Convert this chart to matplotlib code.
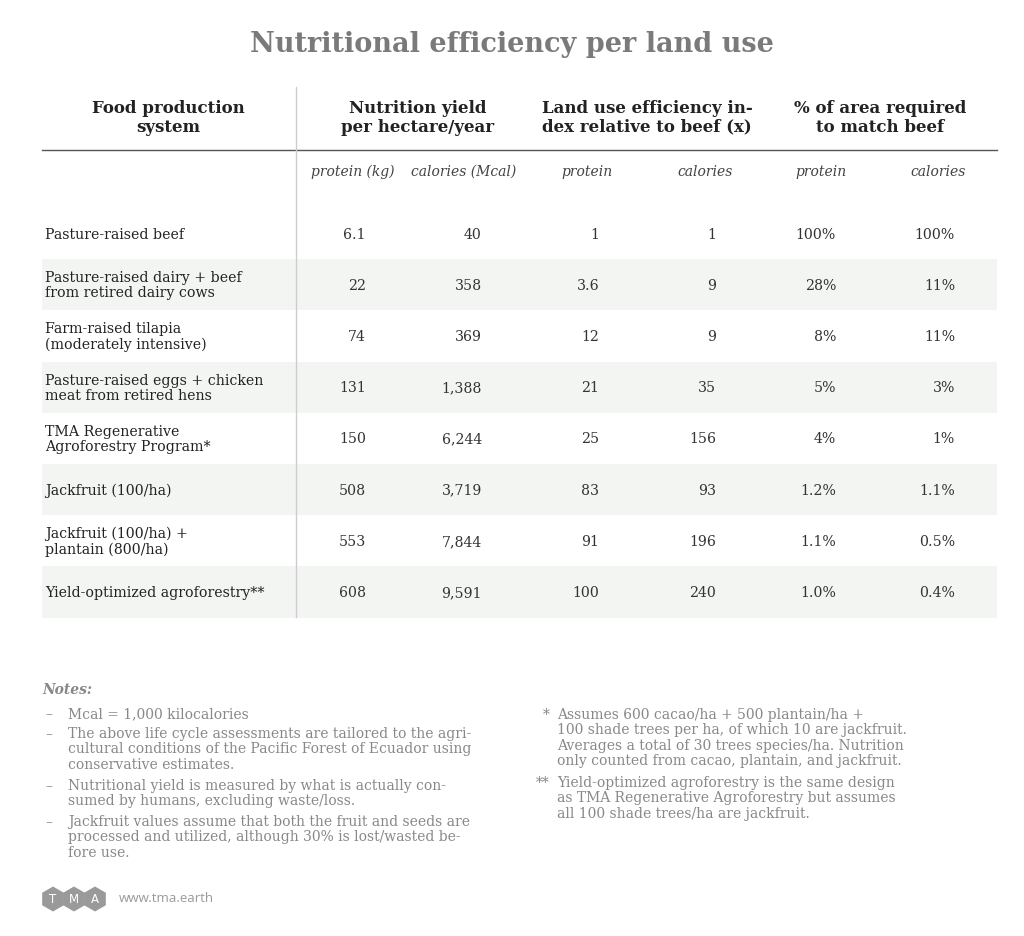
import matplotlib
matplotlib.use('Agg')
import matplotlib.pyplot as plt
from matplotlib.patches import Rectangle, RegularPolygon

systems = ["Pasture-raised beef",
           "Pasture-raised dairy + beef\nfrom retired dairy cows",
           "Farm-raised tilapia\n(moderately intensive)",
           "Pasture-raised eggs + chicken\nmeat from retired hens",
           "TMA Regenerative\nAgroforestry Program*",
           "Jackfruit (100/ha)",
           "Jackfruit (100/ha) +\nplantain (800/ha)",
           "Yield-optimized agroforestry**"]
protein_yield = ["6.1", "22", "74", "131", "150", "508", "553", "608"]
calorie_yield = ["40", "358", "369", "1,388", "6,244", "3,719", "7,844", "9,591"]
protein_eff = ["1", "3.6", "12", "21", "25", "83", "91", "100"]
calorie_eff = ["1", "9", "9", "35", "156", "93", "196", "240"]
protein_area = ["100%", "28%", "8%", "5%", "4%", "1.2%", "1.1%", "1.0%"]
calorie_area = ["100%", "11%", "11%", "3%", "1%", "1.1%", "0.5%", "0.4%"]

headers = ["Food production\nsystem", "Nutrition yield\nper hectare/year",
           "Land use efficiency in-\ndex relative to beef (x)", "% of area required\nto match beef"]
subheaders = ["protein (kg)", "calories (Mcal)", "protein", "calories", "protein", "calories"]

notes_left = [
    "Mcal = 1,000 kilocalories",
    "The above life cycle assessments are tailored to the agri-\ncultural conditions of the Pacific Forest of Ecuador using\nconservative estimates.",
    "Nutritional yield is measured by what is actually con-\nsumed by humans, excluding waste/loss.",
    "Jackfruit values assume that both the fruit and seeds are\nprocessed and utilized, although 30% is lost/wasted be-\nfore use.",
]
notes_right = [
    ("*", "Assumes 600 cacao/ha + 500 plantain/ha +\n100 shade trees per ha, of which 10 are jackfruit.\nAverages a total of 30 trees species/ha. Nutrition\nonly counted from cacao, plantain, and jackfruit."),
    ("**", "Yield-optimized agroforestry is the same design\nas TMA Regenerative Agroforestry but assumes\nall 100 shade trees/ha are jackfruit."),
]

SERIF = "DejaVu Serif"
DARK = "#222222"
GRAY = "#888888"

fig = plt.figure(figsize=(10.24, 9.37), dpi=100)
ax = fig.add_axes([0, 0, 1, 1])
ax.set_xlim(0, 1024)
ax.set_ylim(937, 0)
ax.axis("off")

ax.text(512, 45, "Nutritional efficiency per land use", ha="center", va="center",
        fontsize=19.5, fontweight="bold", color="#7a7a7a", family=SERIF)

# headers
for x, h in zip([168, 418, 647, 880], headers):
    ax.text(x, 118, h, ha="center", va="center", fontsize=12, fontweight="bold",
            color=DARK, family=SERIF, linespacing=1.12)
ax.plot([42, 997], [151, 151], color="#555555", lw=1)
ax.plot([296, 296], [88, 618], color="#cccccc", lw=1)

for x, s in zip([353, 464, 587, 705, 821, 938], subheaders):
    ax.text(x, 172, s, ha="center", va="center", fontsize=10, style="italic",
            color="#444444", family=SERIF)

# rows
row_h = 51.2
top = 209
right_x = [366, 482, 599, 716, 836, 955]
cols = [protein_yield, calorie_yield, protein_eff, calorie_eff, protein_area, calorie_area]
for i, name in enumerate(systems):
    y0 = top + i * row_h
    yc = y0 + row_h / 2
    if i % 2 == 1:
        ax.add_patch(Rectangle((42, y0), 955, row_h, facecolor="#f3f5f3", edgecolor="none", zorder=0))
    ax.text(45, yc, name, ha="left", va="center", fontsize=10.2, color=DARK,
            family=SERIF, linespacing=1.1)
    for x, col in zip(right_x, cols):
        ax.text(x, yc, col[i], ha="right", va="center", fontsize=10.2, color="#333333", family=SERIF)

# notes
ax.text(42, 690, "Notes:", ha="left", va="center", fontsize=10, style="italic",
        fontweight="bold", color=GRAY, family=SERIF)
y = 715
for n in notes_left:
    ax.text(45, y - 8, "\u2013", ha="left", va="top", fontsize=10, color=GRAY, family=SERIF)
    ax.text(68, y - 8, n, ha="left", va="top", fontsize=10, color=GRAY, family=SERIF,
            linespacing=1.12)
    y += 16 * (n.count("\n") + 1) + 4
y = 716
for mark, n in notes_right:
    ax.text(550, y - 8, mark, ha="right", va="top", fontsize=10, color=GRAY, family=SERIF)
    ax.text(557, y - 8, n, ha="left", va="top", fontsize=10, color=GRAY, family=SERIF,
            linespacing=1.12)
    y += 16 * (n.count("\n") + 1) + 4

# footer logo
for k, letter in enumerate("TMA"):
    cx = 53 + k * 21
    ax.add_patch(RegularPolygon((cx, 900), 6, radius=12.5, orientation=0,
                                facecolor="#9a9a9a", edgecolor="none"))
    ax.text(cx, 900, letter, ha="center", va="center", fontsize=8.5, color="white",
            family="DejaVu Sans")
ax.text(119, 899, "www.tma.earth", ha="left", va="center", fontsize=9.5,
        color="#999999", family="Open Sans")

fig.savefig("out.png", dpi=100, facecolor="white")
